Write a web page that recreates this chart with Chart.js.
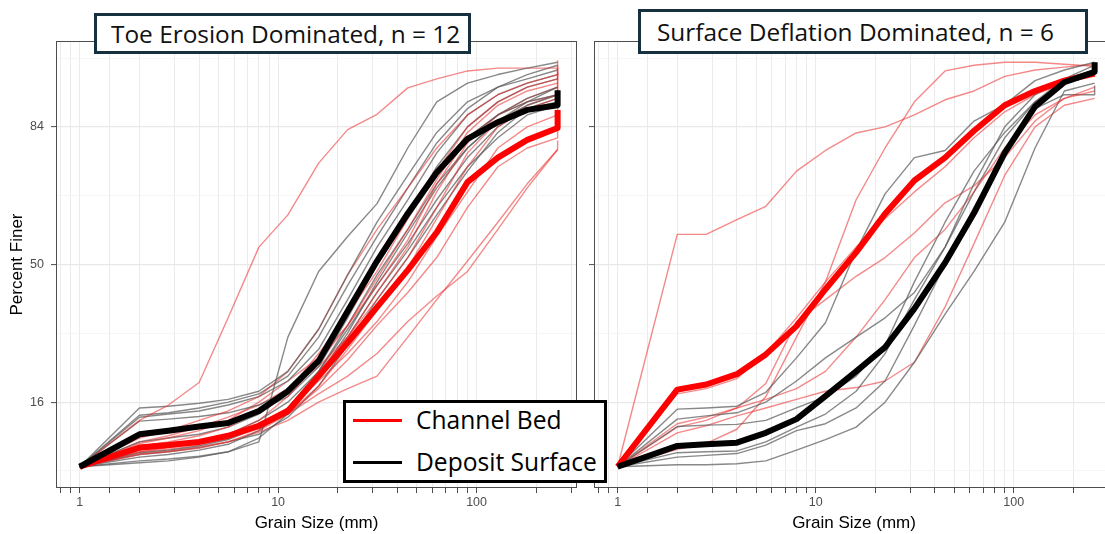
<!DOCTYPE html>
<html>
<head>
<meta charset="utf-8">
<script src="https://cdn.jsdelivr.net/npm/chart.js@4.4.1/dist/chart.umd.min.js"></script>
<style>
  html, body { margin: 0; padding: 0; background: #fff; }
  body { width: 1105px; height: 534px; overflow: hidden; position: relative; }
  canvas { position: absolute; top: 0; }
  #panelToe { left: 0; }
  #panelDef { left: 580px; }
  .strip {
    position: absolute; box-sizing: border-box; background: #fff;
    border: 3px solid #17303f; color: #111;
    font-family: "Open Sans", "Noto Sans", sans-serif; font-size: 24.4px;
    white-space: nowrap; display: flex; align-items: center;
  }
  #stripToe { left: 94px; top: 13px; width: 377px; height: 41px; padding-left: 14px; }
  #stripDef { left: 638px; top: 9px; width: 450px; height: 45px; padding-left: 16px; }
  #legend {
    position: absolute; left: 343px; top: 400px; width: 264px; height: 83px;
    box-sizing: border-box; border: 3px solid #000; background: #fff;
    font-family: "Open Sans", "Noto Sans", sans-serif; font-size: 24.6px; color: #000;
  }
  .key { position: absolute; left: 0; height: 34px; line-height: 34px; white-space: nowrap; }
  .key .swatch { position: absolute; left: 7px; top: 16px; width: 49px; height: 3px; }
  .key .label { position: absolute; left: 70px; top: 0; }
</style>
</head>
<body>
<canvas id="panelToe" width="580" height="534"></canvas>
<canvas id="panelDef" width="540" height="534"></canvas>
<div class="strip" id="stripToe">Toe Erosion Dominated, n = 12</div>
<div class="strip" id="stripDef">Surface Deflation Dominated, n = 6</div>
<div id="legend">
  <div class="key" style="top:0"><span class="swatch" style="background:#ff0000"></span><span class="label">Channel Bed</span></div>
  <div class="key" style="top:42px"><span class="swatch" style="background:#000"></span><span class="label">Deposit Surface</span></div>
</div>
<script>
// Sieve sizes (mm); the last size repeats to close each curve at the coarsest class.
const sizes = [1, 2, 2.8, 4, 5.6, 8, 11.2, 16, 22.4, 31.5, 45, 63, 90, 128, 180, 256, 256];

// Axis breaks
const xTickValues = [0.8, 0.9, 1, 1.41, 2, 3, 4, 5, 6, 7, 8, 9, 10, 20, 30, 40, 50, 60, 70, 80, 90, 100, 200, 300];
const xLabelled = [1, 10, 100];
const yTickValues = [6.8, 16, 30.96, 50, 69.04, 84, 93.2];
const yLabelled = [16, 50, 84];

// Toe erosion dominated sites: percent finer per sieve size
const toeBedMean     = [7.2, 9.3, 9.6, 10.0, 10.8, 12.2, 14.5, 21.0, 28.6, 37.9, 48.4, 59.2, 72.4, 78.0, 81.6, 83.8, 86.8];
const toeDepositMean = [7.2, 11.0, 11.5, 12.1, 12.6, 14.5, 18.0, 24.3, 36.8, 51.0, 64.4, 74.7, 81.8, 84.8, 86.8, 87.5, 89.6];
const toeBed = [
  [7.2, 13.0, 15.5, 19.7, 35.0, 55.0, 64.0, 76.8, 83.5, 86.1, 89.9, 91.0, 91.9, 92.2, 92.2, 92.2, 92.2],
  [7.2, 10.5, 11.5, 13.0, 14.5, 17.0, 22.0, 32.0, 47.0, 60.0, 71.0, 80.0, 86.0, 89.0, 90.5, 91.5, 93.0],
  [7.2, 9.5, 10.0, 10.8, 12.0, 14.5, 18.0, 26.0, 36.0, 48.0, 63.0, 75.0, 84.0, 88.0, 90.0, 91.0, 92.5],
  [7.2, 8.8, 9.3, 10.0, 11.0, 13.0, 17.0, 24.0, 33.0, 46.0, 60.0, 73.0, 83.0, 87.5, 89.5, 90.5, 90.5],
  [7.2, 9.8, 10.5, 11.5, 13.0, 16.0, 20.0, 25.0, 33.0, 44.0, 57.0, 72.0, 82.0, 86.0, 88.0, 89.0, 91.7],
  [7.2, 10.0, 10.8, 12.0, 13.5, 15.5, 18.5, 23.0, 30.0, 42.0, 55.0, 70.0, 81.0, 86.0, 88.5, 90.0, 90.0],
  [7.2, 9.0, 9.4, 10.0, 10.8, 12.0, 15.0, 22.0, 30.0, 40.0, 52.0, 66.0, 79.0, 85.0, 87.5, 89.0, 92.2],
  [7.2, 8.5, 8.8, 9.2, 10.0, 11.5, 14.0, 19.0, 27.0, 37.0, 49.0, 63.0, 76.0, 84.0, 87.0, 88.5, 88.5],
  [7.2, 9.2, 9.6, 10.2, 11.0, 12.5, 15.0, 20.0, 26.0, 34.0, 45.0, 58.0, 70.0, 80.0, 84.0, 86.0, 86.0],
  [7.2, 8.8, 9.1, 9.6, 10.4, 11.8, 14.0, 18.5, 24.5, 33.0, 42.0, 52.0, 66.0, 76.0, 80.0, 82.0, 88.8],
  [7.2, 8.6, 8.9, 9.4, 10.0, 11.3, 13.0, 16.0, 18.5, 21.0, 30.0, 40.0, 51.0, 62.0, 72.0, 79.7, 81.5],
  [7.2, 9.0, 9.3, 9.8, 10.5, 12.0, 14.0, 17.5, 21.0, 26.0, 34.0, 41.0, 48.0, 60.0, 71.0, 79.7, 79.7]
];
const toeDeposit = [
  [7.2, 7.6, 7.8, 8.2, 8.8, 10.0, 30.0, 48.0, 58.0, 67.0, 80.0, 88.0, 90.5, 91.5, 92.2, 92.8, 92.8],
  [7.2, 15.0, 15.3, 15.8, 16.5, 18.0, 22.0, 32.0, 47.0, 62.0, 74.0, 83.0, 88.0, 90.0, 91.0, 92.0, 92.0],
  [7.2, 13.5, 14.0, 14.5, 15.5, 17.0, 20.0, 27.0, 40.0, 55.0, 68.0, 79.0, 86.0, 89.0, 90.5, 91.5, 91.5],
  [7.2, 12.9, 13.2, 13.6, 14.2, 15.5, 18.0, 24.0, 36.0, 50.0, 64.0, 76.0, 84.0, 88.0, 90.0, 91.0, 91.0],
  [7.2, 11.0, 11.4, 12.0, 12.8, 14.5, 17.0, 23.0, 35.0, 50.0, 63.0, 74.0, 82.0, 86.0, 88.0, 89.0, 89.0],
  [7.2, 10.0, 10.5, 11.0, 12.0, 14.0, 17.5, 25.0, 38.0, 52.0, 65.0, 75.0, 82.0, 86.0, 88.5, 90.0, 90.0],
  [7.2, 9.2, 9.5, 10.0, 11.0, 13.0, 16.0, 22.0, 33.0, 47.0, 60.0, 72.0, 80.0, 85.0, 87.5, 89.0, 89.0],
  [7.2, 8.7, 9.0, 9.5, 10.3, 12.0, 15.0, 21.0, 31.0, 45.0, 59.0, 71.0, 80.0, 85.0, 88.0, 90.0, 90.0],
  [7.2, 8.2, 8.5, 9.0, 9.7, 11.5, 15.0, 22.0, 32.0, 44.0, 56.0, 68.0, 78.0, 84.0, 87.0, 88.5, 88.5],
  [7.2, 7.8, 8.0, 8.3, 8.8, 10.5, 14.0, 21.0, 30.0, 42.0, 54.0, 66.0, 76.0, 82.0, 86.0, 87.5, 87.5],
  [7.2, 13.8, 14.2, 15.0, 16.0, 17.5, 21.0, 30.0, 44.0, 58.0, 71.0, 81.0, 87.0, 90.0, 91.5, 92.5, 92.5],
  [7.2, 8.5, 8.8, 9.3, 10.0, 11.0, 13.5, 19.0, 28.0, 40.0, 52.0, 64.0, 75.0, 83.0, 87.0, 88.0, 88.0]
];

// Surface deflation dominated sites
const defBedMean     = [7.2, 18.3, 19.3, 21.4, 25.8, 32.8, 42.9, 53.5, 64.3, 72.8, 78.0, 83.3, 87.5, 89.5, 90.8, 91.6, 91.6];
const defDepositMean = [7.2, 9.5, 9.7, 9.9, 11.2, 13.2, 17.1, 22.0, 27.5, 37.5, 50.5, 64.5, 79.0, 87.3, 90.6, 91.8, 92.8];
const defBed = [
  [7.2, 58.6, 58.6, 62.7, 66.3, 75.0, 79.5, 82.9, 84.0, 86.0, 88.3, 89.5, 91.3, 92.0, 92.3, 92.6, 92.6],
  [7.2, 9.1, 9.8, 11.7, 17.0, 30.0, 45.0, 68.0, 80.0, 88.0, 91.9, 92.5, 92.8, 92.8, 92.6, 92.4, 92.4],
  [7.2, 12.0, 13.0, 15.0, 16.5, 18.5, 22.0, 30.0, 40.0, 52.0, 60.0, 70.0, 80.0, 86.0, 88.5, 89.5, 89.5],
  [7.2, 12.5, 13.5, 15.0, 19.5, 34.0, 40.0, 46.6, 52.0, 59.0, 67.2, 71.5, 78.0, 85.0, 88.5, 90.0, 90.0],
  [7.2, 17.5, 18.5, 20.5, 26.0, 35.0, 45.0, 55.0, 63.0, 70.0, 76.0, 82.0, 86.5, 89.0, 90.5, 91.5, 91.5],
  [7.2, 11.2, 12.2, 13.7, 15.0, 16.5, 18.0, 18.7, 20.0, 24.0, 38.0, 56.0, 74.0, 84.0, 87.5, 88.5, 88.5]
];
const defDeposit = [
  [7.2, 14.8, 15.0, 15.3, 17.8, 25.0, 33.7, 54.0, 69.5, 78.0, 79.5, 85.0, 87.6, 90.8, 92.0, 92.8, 92.8],
  [7.2, 13.2, 13.7, 14.2, 16.0, 20.0, 25.0, 30.0, 35.0, 42.0, 55.0, 72.0, 84.0, 89.0, 91.0, 92.0, 92.0],
  [7.2, 12.1, 12.3, 12.4, 13.0, 15.0, 17.0, 21.0, 28.0, 45.0, 62.0, 75.0, 83.0, 88.0, 90.5, 91.5, 91.5],
  [7.2, 8.7, 8.8, 8.9, 10.0, 12.0, 14.0, 18.0, 26.0, 40.0, 55.0, 70.0, 82.0, 88.0, 91.0, 92.5, 92.5],
  [7.2, 7.4, 7.4, 7.5, 7.8, 9.0, 10.3, 12.0, 16.0, 24.0, 36.0, 48.0, 62.0, 80.0, 89.5, 90.5, 90.5],
  [7.2, 8.2, 8.4, 8.6, 9.6, 11.5, 12.5, 15.0, 20.0, 33.0, 50.0, 66.0, 79.0, 87.0, 89.0, 89.0, 90.2]
];

// ---- Normal-probability (probit) axis -------------------------------------
function probit(p) {
  const a = [-3.969683028665376e+01, 2.209460984245205e+02, -2.759285104469687e+02, 1.383577518672690e+02, -3.066479806614716e+01, 2.506628277459239e+00];
  const b = [-5.447609879822406e+01, 1.615858368580409e+02, -1.556989798598866e+02, 6.680131188771972e+01, -1.328068155288572e+01];
  const c = [-7.784894002430293e-03, -3.223964580411365e-01, -2.400758277161838e+00, -2.549671058254018e+00, 4.374664141464968e+00, 2.938163982698783e+00];
  const d = [7.784695709041462e-03, 3.224671290700398e-01, 2.445134137142996e+00, 3.754408661907416e+00];
  const lo = 0.02425;
  if (p < lo) {
    const q = Math.sqrt(-2 * Math.log(p));
    return (((((c[0]*q+c[1])*q+c[2])*q+c[3])*q+c[4])*q+c[5]) / ((((d[0]*q+d[1])*q+d[2])*q+d[3])*q+1);
  }
  if (p > 1 - lo) {
    const q = Math.sqrt(-2 * Math.log(1 - p));
    return -(((((c[0]*q+c[1])*q+c[2])*q+c[3])*q+c[4])*q+c[5]) / ((((d[0]*q+d[1])*q+d[2])*q+d[3])*q+1);
  }
  const q = p - 0.5, r = q * q;
  return (((((a[0]*r+a[1])*r+a[2])*r+a[3])*r+a[4])*r+a[5])*q / (((((b[0]*r+b[1])*r+b[2])*r+b[3])*r+b[4])*r+1);
}

class ProbitScale extends Chart.Scale {
  static id = 'probit';
  static defaults = {};
  parse(raw) { return raw === null || raw === undefined ? null : +raw; }
  determineDataLimits() {
    this.min = this.options.min;
    this.max = this.options.max;
  }
  buildTicks() {
    return (this.options.tickValues || []).map(v => ({ value: v }));
  }
  getLabelForValue(v) { return String(v); }
  _z(v) { return probit(Math.min(Math.max(v, 0.001), 99.999) / 100); }
  getPixelForValue(v) {
    if (v === null || v === undefined || isNaN(v)) return NaN;
    const z0 = this._z(this.min), z1 = this._z(this.max);
    return this.getPixelForDecimal((this._z(v) - z0) / (z1 - z0));
  }
  getValueForPixel(px) {
    const z0 = this._z(this.min), z1 = this._z(this.max);
    const zt = z0 + this.getDecimalForPixel(px) * (z1 - z0);
    let lo = 0.001, hi = 99.999;
    for (let i = 0; i < 50; i++) {
      const mid = (lo + hi) / 2;
      if (this._z(mid) < zt) lo = mid; else hi = mid;
    }
    return (lo + hi) / 2;
  }
}
Chart.register(ProbitScale);

// ---- Styling ---------------------------------------------------------------
const BED_THIN = 'rgba(235, 40, 40, 0.55)';
const DEP_THIN = 'rgba(90, 90, 90, 0.72)';
const BED_MEAN = '#ff0000';
const DEP_MEAN = '#000000';
const TICK_FONT = { family: 'Liberation Sans', size: 12.5 };
const TITLE_FONT = { family: 'Liberation Sans', size: 17 };

function series(values, color, width, order) {
  return {
    data: sizes.map((s, i) => ({ x: s, y: values[i] })),
    borderColor: color,
    borderWidth: width,
    pointRadius: 0,
    pointHoverRadius: 0,
    tension: 0,
    fill: false,
    borderJoinStyle: 'round',
    borderCapStyle: 'butt',
    order: order
  };
}

const panelFrame = {
  id: 'panelFrame',
  afterDraw(chart) {
    const { ctx, chartArea: a } = chart;
    ctx.save();
    ctx.strokeStyle = '#4d4d4d';
    ctx.lineWidth = 1;
    ctx.strokeRect(a.left + 0.5, a.top + 0.5, a.right - a.left - 1, a.bottom - a.top - 1);
    ctx.restore();
  }
};

function buildPanel(canvasId, bedRuns, depRuns, bedMean, depMean, withYLabels, yAxisWidth, rightPad) {
  const datasets = [series(depMean, DEP_MEAN, 6, 0), series(bedMean, BED_MEAN, 6, 1)];
  const n = Math.max(bedRuns.length, depRuns.length);
  for (let i = 0; i < n; i++) {
    if (depRuns[i]) datasets.push(series(depRuns[i], DEP_THIN, 1.4, 2));
    if (bedRuns[i]) datasets.push(series(bedRuns[i], BED_THIN, 1.4, 2));
  }
  return new Chart(document.getElementById(canvasId), {
    type: 'line',
    data: { datasets },
    options: {
      responsive: false,
      animation: false,
      devicePixelRatio: 1,
      events: [],
      layout: { padding: { left: 0, right: rightPad, top: 41, bottom: 0 } },
      plugins: { legend: { display: false }, tooltip: { enabled: false } },
      scales: {
        x: {
          type: 'logarithmic',
          min: 0.76,
          max: 320.6,
          afterBuildTicks(scale) { scale.ticks = xTickValues.map(v => ({ value: v })); },
          afterFit(scale) { scale.height = 46; },
          border: { display: false },
          grid: {
            color: '#ebebeb',
            lineWidth: 1,
            tickLength: 5,
            tickColor: '#4d4d4d',
            tickWidth: 1
          },
          ticks: {
            autoSkip: false,
            maxRotation: 0,
            padding: 2,
            color: '#4d4d4d',
            font: TICK_FONT,
            callback: v => (xLabelled.includes(v) ? String(v) : '')
          },
          title: {
            display: true,
            text: 'Grain Size (mm)',
            color: '#000',
            font: TITLE_FONT,
            padding: { top: 0, bottom: 0 }
          }
        },
        y: {
          type: 'probit',
          min: 5.32,
          max: 94.68,
          tickValues: yTickValues,
          afterFit(scale) { scale.width = yAxisWidth; },
          border: { display: false },
          grid: {
            color: ctx => (ctx.tick && yLabelled.includes(ctx.tick.value) ? '#e8e8e8' : '#f4f4f4'),
            lineWidth: ctx => (ctx.tick && yLabelled.includes(ctx.tick.value) ? 1.2 : 0.8),
            tickLength: 5,
            tickColor: ctx => (ctx.tick && yLabelled.includes(ctx.tick.value) ? '#4d4d4d' : 'rgba(0,0,0,0)'),
            tickWidth: 1
          },
          ticks: {
            autoSkip: false,
            padding: 7,
            color: '#4d4d4d',
            font: TICK_FONT,
            callback: v => (withYLabels && yLabelled.includes(v) ? String(v) : '')
          },
          title: {
            display: withYLabels,
            text: 'Percent Finer',
            color: '#000',
            font: TITLE_FONT,
            padding: { top: 7, bottom: 0 }
          }
        }
      }
    },
    plugins: [panelFrame]
  });
}

buildPanel('panelToe', toeBed, toeDeposit, toeBedMean, toeDepositMean, true, 56, 3);
buildPanel('panelDef', defBed, defDeposit, defBedMean, defDepositMean, false, 14, 6);
</script>
</body>
</html>
